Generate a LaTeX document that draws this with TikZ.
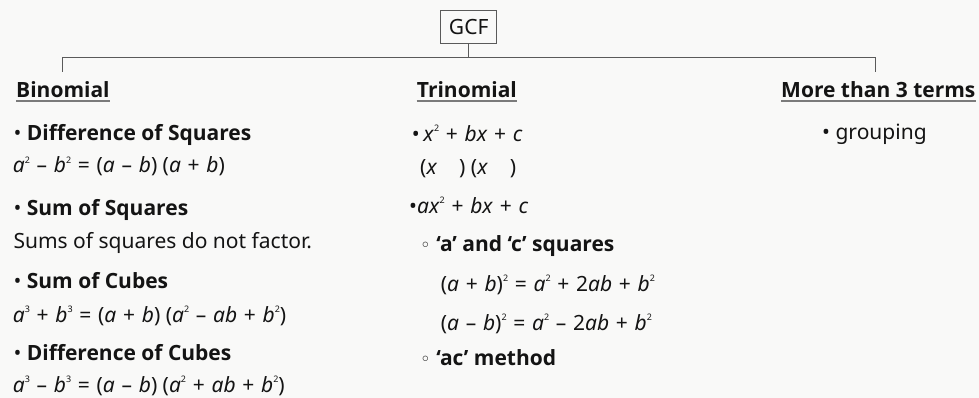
\documentclass[tikz,border=0pt]{standalone}
\usepackage{fontspec}
\setmainfont{Noto Sans}
\newfontfamily\opensans{Open Sans}
\newfontfamily\djfont{DejaVu Sans}
\definecolor{bgc}{RGB}{249,249,248}
\definecolor{ink}{RGB}{20,20,20}
\definecolor{linec}{RGB}{90,90,90}
\newcommand\vv[1]{\textit{#1}}
\newcommand\sqr[1]{\raisebox{0.47em}{\fontsize{9}{9}\selectfont #1}}
\newcommand\opsp{\hspace{0.32em}}
\newcommand\opm{\opsp\textendash\opsp}
\newcommand\opp{\opsp+\opsp}
\newcommand\ope{\opsp=\opsp}
\newcommand\bld[1]{{\opensans\bfseries #1}}
\newcommand\hollow{{\djfont\fontsize{18}{18}\selectfont ◦}}
\begin{document}
\begin{tikzpicture}[x=1pt,y=1pt,
  txt/.style={anchor=base west, inner sep=0pt, text=ink, font=\fontsize{21}{25}\selectfont},
  head/.style={txt, font=\fontsize{21}{25}\selectfont\opensans\bfseries},
  uline/.style={draw=linec!80, line width=1.6pt},
  conn/.style={draw=linec, line width=1.5pt},
  boxnode/.style={draw=linec, line width=1.3pt, minimum width=56pt, minimum height=33pt, inner sep=0pt, text=ink, font=\fontsize{21}{25}\selectfont}]
\fill[bgc] (0,0) rectangle (979,-398);
\useasboundingbox (0,0) rectangle (979,-398);
% root
\node[boxnode] (gcf) at (468.7,-26.7) {GCF};
\coordinate (jl) at (62.3,-57.3);
\coordinate (jr) at (875.7,-57.3);
\coordinate (dl) at (62.3,-71.7);
\coordinate (dr) at (875.7,-71.7);
\draw[conn] (gcf.south) -- (gcf.south |- jl);
\draw[conn] (dl) -- (jl) -- (jr) -- (dr);
% headings
\node[head] (bin) at (16,-98) {Binomial};
\node[head] (tri) at (416.7,-98) {Trinomial};
\node[head] (more) at (781,-98) {More than 3 terms};
\foreach \n in {bin,tri,more}{
  \draw[uline] ([yshift=-3pt]\n.base west) -- ([yshift=-3pt]\n.base east);
}
% binomial column
\node[head] (b1) at (13.3,-141) {\textmd{•} Difference of Squares};
\node[txt] (b2) at (12.7,-173) {\vv{a}\sqr{2}\opm\vv{b}\sqr{2}\ope(\vv{a}\opm\vv{b}) (\vv{a}\opp\vv{b})};
\node[head] (b3) at (13.3,-215) {\textmd{•} Sum of Squares};
\node[txt] (b4) at (13.3,-248) {Sums of squares do not factor.};
\node[head] (b5) at (13.3,-288) {\textmd{•} Sum of Cubes};
\node[txt] (b6) at (12.7,-322) {\vv{a}\sqr{3}\opp\vv{b}\sqr{3}\ope(\vv{a}\opp\vv{b}) (\vv{a}\sqr{2}\opm\vv{ab}\opp\vv{b}\sqr{2})};
\node[head] (b7) at (13.3,-360) {\textmd{•} Difference of Cubes};
\node[txt] (b8) at (12.7,-392) {\vv{a}\sqr{3}\opm\vv{b}\sqr{3}\ope(\vv{a}\opm\vv{b}) (\vv{a}\sqr{2}\opp\vv{ab}\opp\vv{b}\sqr{2})};
% trinomial column
\node[txt] (t1) at (411.7,-141.7) {•\,\vv{x}\sqr{2}\opp\vv{bx}\opp\vv{c}};
\node[txt] (t2) at (420,-175) {(\vv{x}\hspace{22pt}) (\vv{x}\hspace{22pt})};
\node[txt] (t3) at (409,-213) {•\vv{ax}\sqr{2}\opp\vv{bx}\opp\vv{c}};
\node[txt] (t4) at (420,-251.7) {\hollow\ \bld{‘a’ and ‘c’ squares}};
\node[txt] (t5) at (440.7,-291.7) {(\vv{a}\opp\vv{b})\sqr{2}\ope\vv{a}\sqr{2}\opp2\vv{ab}\opp\vv{b}\sqr{2}};
\node[txt] (t6) at (440.7,-330) {(\vv{a}\opm\vv{b})\sqr{2}\ope\vv{a}\sqr{2}\opm2\vv{ab}\opp\vv{b}\sqr{2}};
\node[txt] (t7) at (420,-365) {\hollow\ \bld{‘ac’ method}};
% more than 3 terms
\node[txt] (m1) at (822,-140) {• grouping};
\end{tikzpicture}
\end{document}
